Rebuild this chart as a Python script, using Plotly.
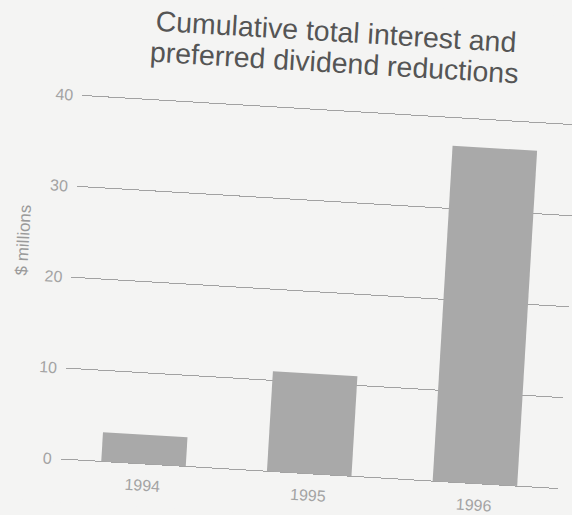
import plotly.graph_objects as go

# Cumulative reductions, $ millions
years = ["1994", "1995", "1996"]
reductions = [3.2, 11.0, 36.9]
y_ticks = [0, 10, 20, 30, 40]
title_lines = ["Cumulative total interest and", "preferred dividend reductions"]
y_label = "$ millions"

PAPER = "#f4f4f3"
BAR = "#a9a9a9"
GRID = "#a2a2a2"
FONT = "Liberation Sans, Arial, Helvetica, sans-serif"

Y_MAX = 40.2  # a little headroom so the 40 gridline is drawn

fig = go.Figure(
    go.Bar(
        x=years,
        y=reductions,
        width=0.51,
        marker=dict(color=BAR, line=dict(width=0)),
        hoverinfo="skip",
    )
)

fig.update_layout(
    width=572,
    height=515,
    margin=dict(l=73, r=1, t=106, b=43),
    paper_bgcolor=PAPER,
    plot_bgcolor=PAPER,
    showlegend=False,
    font=dict(family=FONT),
)

fig.update_xaxes(
    type="category",
    range=[-0.5, 2.5],
    showgrid=False,
    showline=False,
    zeroline=False,
    ticks="",
    ticklabelstandoff=10,
    tickfont=dict(size=16, color="#a3a3a3"),
)

fig.update_yaxes(
    range=[0, Y_MAX],
    tickvals=y_ticks,
    showgrid=True,
    gridcolor=GRID,
    gridwidth=1,
    zeroline=True,
    zerolinecolor=GRID,
    zerolinewidth=1,
    showline=False,
    ticks="",
    ticklabelstandoff=8,
    tickfont=dict(size=16, color="#a3a3a3"),
)

# Two-line heading, set with tight leading
for text, ypos in zip(title_lines, [1.21, 1.126]):
    fig.add_annotation(
        text=text, xref="paper", yref="paper", x=0.5, y=ypos,
        xanchor="center", yanchor="middle", showarrow=False,
        font=dict(size=28.5, color="#555555", family=FONT),
    )

fig.add_annotation(
    text=y_label, xref="paper", yref="paper", x=-0.101, y=0.592,
    xanchor="center", yanchor="middle", textangle=-90, showarrow=False,
    font=dict(size=17, color="#9a9a9a", family=FONT),
)

# The printed page sits slightly askew
tilt = """
var gd = document.getElementById('{plot_id}');
document.documentElement.style.background = '%s';
document.documentElement.style.overflow = 'hidden';
document.body.style.background = '%s';
document.body.style.margin = '0';
document.body.style.overflow = 'hidden';
gd.style.transformOrigin = '286px 257.5px';
gd.style.transform = 'rotate(3.4deg)';
""" % (PAPER, PAPER)

fig.write_html("out.html", post_script=tilt)
